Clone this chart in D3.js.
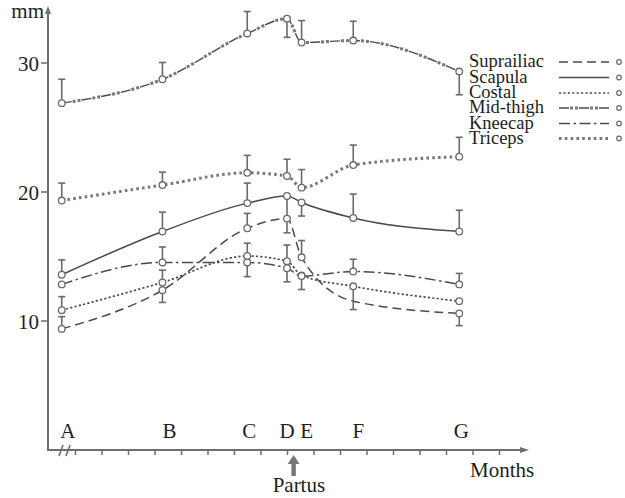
<!DOCTYPE html>
<html><head><meta charset="utf-8">
<script src="https://cdn.jsdelivr.net/npm/d3@7"></script>
<style>body{margin:0;background:#fff}svg{display:block}text{font-family:"Liberation Serif","Times New Roman",serif;fill:#1e1e1e}</style>
</head><body><svg id="c" width="625" height="498"></svg>
<script>
// ---- data ----
const categories = ["A","B","C","D","E","F","G"];
const months = [-0.5, 3.3, 6.5, 8.0, 8.55, 10.5, 14.5];
const seriesNames = ["Suprailiac","Scapula","Costal","Mid-thigh","Kneecap","Triceps"];
const suprailiac = [9.35, 12.35, 17.15, 17.9, 14.9, 11.5, 10.55];
const suprailiacErr = [10.3, 11.4, 18.3, null, 16.2, null, 9.6];
const suprailiacMarker = [1,1,1,1,1,0,1];
const scapula = [13.55, 16.9, 19.1, 19.65, 19.15, 17.95, 16.9];
const scapulaErr = [14.7, 18.4, 20.65, 16.8, 18.1, 19.8, 18.55];
const costal = [10.8, 12.95, 15.0, 14.6, 13.5, 12.65, 11.5];
const costalErr = [11.85, 13.9, 16.0, 15.85, 12.4, 10.85, null];
const midthigh = [26.85, 28.7, 32.25, 33.4, 31.55, 31.7, 29.3];
const midthighErr = [28.7, 30.0, 33.95, 31.95, 33.25, 33.2, 27.5];
const kneecap = [12.8, 14.5, 14.5, 14.05, 13.45, 13.8, 12.8];
const kneecapErr = [null, 15.7, 13.4, 13.0, null, 14.75, 13.65];
const triceps = [19.3, 20.5, 21.45, 21.2, 20.3, 22.05, 22.7];
const tricepsErr = [20.65, 21.5, 22.8, 22.5, 21.7, 23.6, 24.2];
const yTicks = [10, 20, 30];
const monthTicks = d3.range(0, 17);
const partusMonth = 8.25;

// ---- drawing ----
const svg = d3.select("#c");
const x = d3.scaleLinear().domain([0, 16]).range([75, 499]);
const y = d3.scaleLinear().domain([0, 30]).range([449.5, 62.5]);
const axisColor = "#6e6e6e", lineColor = "#4a4a4a", markColor = "#6a6a6a";
const axX = 48, axY = 450;
const labelShift = [6, 7, 2, 0, 5, 5, 2];

// y axis
svg.append("line").attr("x1", axX).attr("x2", axX).attr("y1", axY).attr("y2", 12)
  .attr("stroke", axisColor).attr("stroke-width", 2);
svg.append("path").attr("d", `M${axX-3},14 L${axX},6 L${axX+3},14 Z`).attr("fill", axisColor);
const yAxis = d3.axisLeft(y).tickValues(yTicks).tickSize(7).tickFormat(d3.format("d"));
const yg = svg.append("g").attr("transform", `translate(${axX},0)`).call(yAxis);
yg.select(".domain").remove();
yg.selectAll(".tick line").attr("stroke", axisColor).attr("stroke-width", 1.5);
yg.selectAll(".tick text").attr("font-size", 21).attr("font-family", "Liberation Serif").attr("fill", "#1e1e1e").attr("dx", "1").attr("dy", "0.36em");
svg.append("text").attr("x", 44).attr("y", 18).attr("text-anchor", "end").attr("font-size", 21).text("mm");

// x axis
svg.append("line").attr("x1", axX-1).attr("x2", 524).attr("y1", axY).attr("y2", axY)
  .attr("stroke", axisColor).attr("stroke-width", 2);
svg.append("path").attr("d", `M520,${axY-3} L529,${axY} L520,${axY+3} Z`).attr("fill", axisColor);
const xAxis = d3.axisBottom(x).tickValues(monthTicks).tickSize(5).tickFormat("");
const xg = svg.append("g").attr("transform", `translate(0,${axY})`).call(xAxis);
xg.select(".domain").remove();
xg.selectAll(".tick line").attr("stroke", axisColor).attr("stroke-width", 1.5);
// axis break
[0, 7].forEach(o => {
  svg.append("line").attr("x1", 59+o).attr("y1", 456).attr("x2", 63+o).attr("y2", 445)
    .attr("stroke", axisColor).attr("stroke-width", 1.6);
});
svg.append("text").attr("x", 470).attr("y", 477).attr("font-size", 21).text("Months");

// category letters
svg.append("g").selectAll("text").data(categories).join("text")
  .attr("x", (d, i) => x(months[i]) + labelShift[i]).attr("y", 438)
  .attr("text-anchor", "middle").attr("font-size", 21).text(d => d);

// partus arrow
const px = x(partusMonth);
svg.append("path").attr("d", `M${px},455 L${px+6},464 L${px+2.2},464 L${px+2.2},476 L${px-2.2},476 L${px-2.2},464 L${px-6},464 Z`)
  .attr("fill", "#777");
svg.append("text").attr("x", px - 21).attr("y", 492).attr("font-size", 21).text("Partus");

// series styles
function styleDefs(name) {
  switch (name) {
    case "Suprailiac": return [{dash: "9,5", w: 1.5}];
    case "Scapula": return [{dash: null, w: 1.5}];
    case "Costal": return [{dash: "2.2,2.2", w: 1.7}];
    case "Mid-thigh": return [{dash: "10,10", w: 1.4}, {dash: "0,11,3,2,3,1", w: 3, c: "#777"}];
    case "Kneecap": return [{dash: "11,3.5,2.5,3.5", w: 1.5}];
    case "Triceps": return [{dash: "2.6,3.2", w: 3, c: "#777"}];
  }
}
const seriesData = {
  "Suprailiac": [suprailiac, suprailiacErr, suprailiacMarker],
  "Scapula": [scapula, scapulaErr, null],
  "Costal": [costal, costalErr, null],
  "Mid-thigh": [midthigh, midthighErr, null],
  "Kneecap": [kneecap, kneecapErr, null],
  "Triceps": [triceps, tricepsErr, null]
};
const line = d3.line().x(d => x(d[0])).y(d => y(d[1])).curve(d3.curveMonotoneX);
const plot = svg.append("g");
const errG = svg.append("g");
const markG = svg.append("g");

seriesNames.forEach(name => {
  const [vals, errs, mk] = seriesData[name];
  const pts = vals.map((v, i) => [months[i], v]);
  styleDefs(name).forEach(s => {
    plot.append("path").attr("d", line(pts)).attr("fill", "none")
      .attr("stroke", s.c || lineColor).attr("stroke-width", s.w)
      .attr("stroke-dasharray", s.dash);
  });
  errs.forEach((e, i) => {
    if (e == null) return;
    const cx = x(months[i]);
    errG.append("line").attr("x1", cx).attr("x2", cx).attr("y1", y(vals[i])).attr("y2", y(e))
      .attr("stroke", markColor).attr("stroke-width", 1.6);
    errG.append("line").attr("x1", cx - 3.5).attr("x2", cx + 3.5).attr("y1", y(e)).attr("y2", y(e))
      .attr("stroke", markColor).attr("stroke-width", 1.6);
  });
  vals.forEach((v, i) => {
    if (mk && !mk[i]) return;
    markG.append("circle").attr("cx", x(months[i])).attr("cy", y(v)).attr("r", 3.3)
      .attr("fill", "#fff").attr("stroke", markColor).attr("stroke-width", 1.3);
  });
});

// legend
const legBase = [67, 82.5, 98, 113, 128.5, 143.5];
const leg = svg.append("g");
seriesNames.forEach((name, i) => {
  const by = legBase[i];
  leg.append("text").attr("x", 469).attr("y", by).attr("font-size", 18.5).text(name);
  styleDefs(name).forEach(s => {
    leg.append("line").attr("x1", 559).attr("x2", 609).attr("y1", by - 5).attr("y2", by - 5)
      .attr("stroke", s.c || lineColor).attr("stroke-width", s.w).attr("stroke-dasharray", s.dash);
  });
  leg.append("circle").attr("cx", 619).attr("cy", by - 5).attr("r", 2.3)
    .attr("fill", "#fff").attr("stroke", markColor).attr("stroke-width", 1.2);
});
</script></body></html>
